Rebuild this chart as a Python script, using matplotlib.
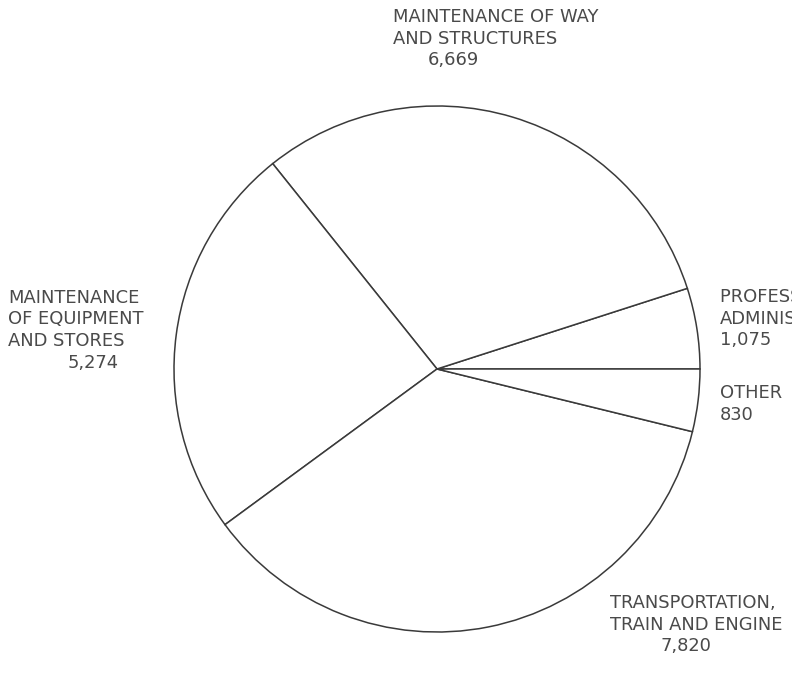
import matplotlib.pyplot as plt

# Employment by category (order follows the pie, counterclockwise from 3 o'clock)
categories = [
    ["PROFESSIONAL AND", "ADMINISTRATIVE"],
    ["MAINTENANCE OF WAY", "AND STRUCTURES"],
    ["MAINTENANCE", "OF EQUIPMENT", "AND STORES"],
    ["TRANSPORTATION,", "TRAIN AND ENGINE"],
    ["OTHER"],
]
employees = [1075, 6669, 5274, 7820, 830]

# label anchors in pixel space (x of text lines, y of first line, x of number)
label_x = [720, 393, 8, 610, 720]
label_y = [297, 17, 298, 603, 393]
number_x = [720, 428, 68, 660, 720]

W, H = 792, 677
line_gap = 21.5
text_color = "#4a4a4a"

fig = plt.figure(figsize=(W / 100, H / 100), dpi=100)
ax = fig.add_axes([0, 0, 1, 1])
ax.axis("off")

ax.pie(employees, startangle=0, counterclock=True,
       center=(437, H - 369), radius=263,
       wedgeprops=dict(facecolor="white", edgecolor="#3a3a3a", linewidth=1.1))
ax.set_xlim(0, W)
ax.set_ylim(0, H)
ax.set_aspect("equal")

for lines, v, x, y, nx in zip(categories, employees, label_x, label_y, number_x):
    for i, s in enumerate(lines):
        ax.text(x, H - (y + i * line_gap), s, ha="left", va="center",
                fontsize=12.9, color=text_color, family="DejaVu Sans")
    ax.text(nx, H - (y + len(lines) * line_gap), f"{v:,}", ha="left", va="center",
            fontsize=12.9, color=text_color, family="DejaVu Sans")

fig.savefig("out.png", dpi=100, facecolor="white")
